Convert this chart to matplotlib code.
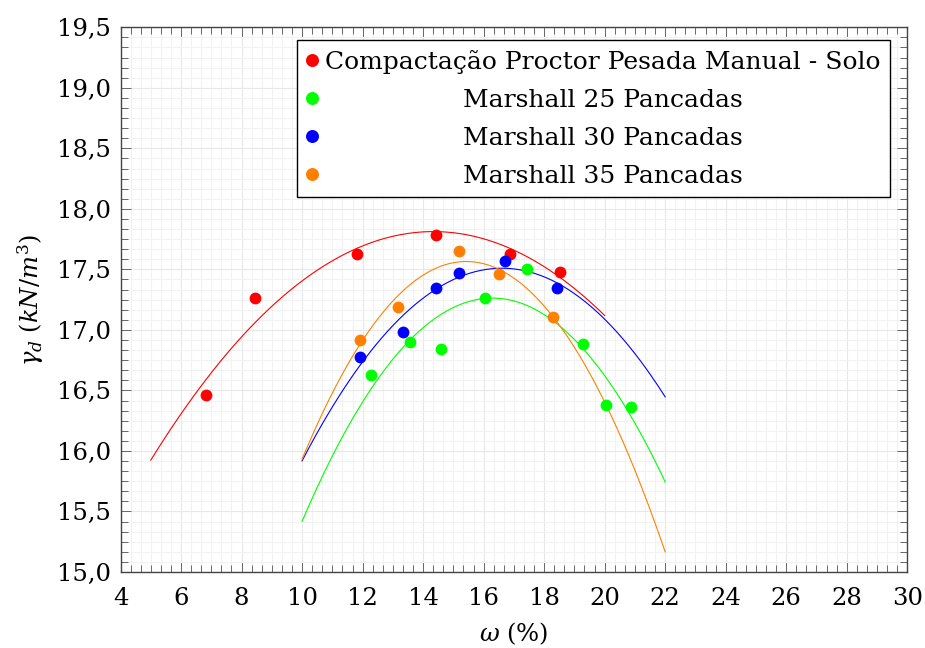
import numpy as np
import matplotlib.pyplot as plt
from matplotlib.ticker import MultipleLocator, FuncFormatter

plt.rcParams['font.family'] = 'DejaVu Serif'
plt.rcParams['mathtext.fontset'] = 'dejavuserif'

# points
x_solo = [6.81, 8.46, 11.83, 14.44, 16.88, 18.54]
y_solo = [16.46, 17.26, 17.63, 17.78, 17.63, 17.48]

x_m25 = [12.28, 13.56, 14.59, 16.04, 17.42, 19.30, 20.06, 20.86]
y_m25 = [16.63, 16.90, 16.84, 17.26, 17.50, 16.88, 16.38, 16.36]

x_m30 = [11.93, 13.33, 14.43, 15.19, 16.69, 18.44]
y_m30 = [16.78, 16.98, 17.35, 17.47, 17.57, 17.35]

x_m35 = [11.91, 13.16, 15.19, 16.52, 18.29]
y_m35 = [16.92, 17.19, 17.65, 17.46, 17.11]

labels = ['Compactação Proctor Pesada Manual - Solo',
          'Marshall 25 Pancadas',
          'Marshall 30 Pancadas',
          'Marshall 35 Pancadas']
colors = ['#ff0000', '#00ff00', '#0000ff', '#ff8000']
domains = [(5, 20), (10, 22), (10, 22), (10, 22)]

series = [(x_solo, y_solo), (x_m25, y_m25), (x_m30, y_m30), (x_m35, y_m35)]

fig = plt.figure(figsize=(9.25, 6.48), dpi=100)
ax = fig.add_axes([0.1303, 0.1173, 0.8505, 0.8406])

# quadratic trend lines
for (xs, ys), c, (a, b) in zip(series, colors, domains):
    p = np.polyfit(xs, ys, 2)
    xx = np.linspace(a, b, 200)
    ax.plot(xx, np.polyval(p, xx), color=c, lw=0.8, zorder=2)

handles = []
for (xs, ys), c, lab in zip(series, colors, labels):
    h, = ax.plot(xs, ys, 'o', color=c, ms=8.5, mec='none', label=lab, zorder=3)
    handles.append(h)

ax.set_xlim(4, 30)
ax.set_ylim(15, 19.5)
ax.xaxis.set_major_locator(MultipleLocator(2))
ax.xaxis.set_minor_locator(MultipleLocator(2 / 6))
ax.yaxis.set_major_locator(MultipleLocator(0.5))
ax.yaxis.set_minor_locator(MultipleLocator(0.5 / 6))
ax.yaxis.set_major_formatter(FuncFormatter(lambda v, pos: f'{v:.1f}'.replace('.', ',')))

ax.grid(True, which='major', color='#e8e8e8', lw=0.8, zorder=0)
ax.grid(True, which='minor', color='#f2f2f2', lw=0.8, zorder=0)
ax.set_axisbelow(True)

ax.tick_params(which='both', direction='in', top=True, right=True, color='#666666',
               width=0.7, labelsize=17.5)
ax.tick_params(axis='x', which='major', pad=11)
ax.tick_params(axis='y', which='major', pad=7)
ax.tick_params(which='major', length=7.5)
ax.tick_params(which='minor', length=5)
for s in ax.spines.values():
    s.set_color('#444444')
    s.set_linewidth(1.0)

ax.set_xlabel(r'$\omega$ (%)', fontsize=17.5, labelpad=7)
ax.set_ylabel(r'$\gamma_d$ $(kN/m^3)$', fontsize=17.5, labelpad=8)

leg = ax.legend(handles=handles, loc='upper right', bbox_to_anchor=(0.9784, 0.976),
                borderaxespad=0, fontsize=18, frameon=True, fancybox=False,
                edgecolor='black', framealpha=1, handlelength=0.45, handletextpad=0.3,
                borderpad=0.38, labelspacing=0.6, numpoints=1, markerscale=1.1)
leg.get_frame().set_linewidth(1.0)

# centre the legend entries like the original
fig.canvas.draw()
r = fig.canvas.get_renderer()
texts = leg.get_texts()
widths = [t.get_window_extent(r).width for t in texts]
wmax = max(widths)
for t, w in zip(texts, widths):
    t.set_position(((wmax - w) / 2, 0))

fig.savefig('out.png', dpi=100)
